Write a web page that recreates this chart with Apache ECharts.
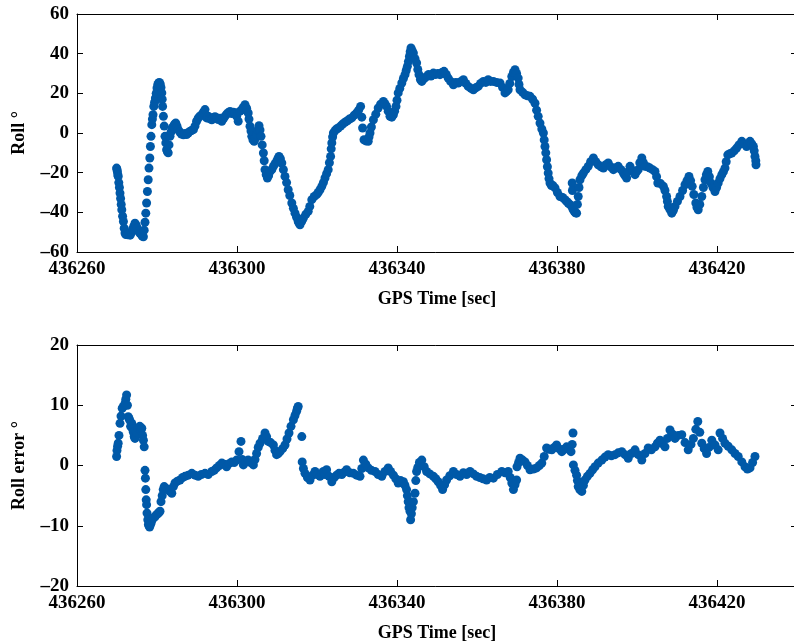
<!DOCTYPE html>
<html>
<head>
<meta charset="utf-8">
<script src="https://cdn.jsdelivr.net/npm/echarts@6/dist/echarts.min.js"></script>
<style>
html,body{margin:0;padding:0;background:#fff;}
#chart{width:794px;height:643px;}
</style>
</head>
<body>
<div id="chart"></div>
<script>
// Samples: [GPS time - 436000 (sec), roll (deg)] — top panel
const rollPoints = [
[269.9,-17.7],[270.0,-18.5],[270.1,-19.5],[270.2,-21],[270.3,-21.9],[270.45,-25],[270.6,-27.5],[270.75,-30.3],[270.9,-33],[271.05,-36],[271.2,-38.7],[271.4,-42],[271.6,-44.6],[271.8,-48],[272.0,-50.4],[272.2,-51.2],
[272.4,-50.5],[272.7,-51.3],[273.0,-50.8],[273.3,-51.5],[273.6,-50.2],[273.9,-48.5],[274.2,-47],[274.5,-45.5],[274.8,-46.5],[275.1,-48],[275.4,-49.5],[275.7,-50.5],[276.0,-51],[276.3,-52],[276.6,-52.3],[276.8,-49],
[277.0,-45],[277.2,-40.4],[277.4,-35.3],[277.6,-29.5],[277.8,-23.6],[278.0,-17.7],[278.2,-12.6],[278.35,-6.8],[278.5,-1.7],[278.7,4.2],[278.85,7],[279.0,9.2],[279.2,13.4],[279.4,15.5],[279.6,17.6],[279.8,20],[280.0,22.7],[280.2,24.5],[280.4,25.2],[280.6,25.5],[280.8,24.8],[281.0,23],[281.2,20.2],[281.3,17],[281.4,13.4],[281.6,8.4],[281.8,3.5],[282.0,-1.7],[282.2,-5],[282.4,-8.4],[282.6,-9.5],[282.8,-10],[283.0,-6],[283.25,-1.7],[283.5,0.5],[283.8,2.5],[284.1,3.4],[284.4,4.5],[284.7,5.0],[285.0,3.5],[285.3,1.7],[285.7,0.5],[286.1,-0.5],[286.6,-0.9],[287.0,-0.2],[287.4,-0.8],[287.8,0],[288.2,0.8],[288.6,1.2],[289.1,1.7],[289.5,3.5],[289.9,5.9],[290.3,7.5],[290.7,8.5],[291.2,9.2],[291.6,10.5],[292.0,11.8],[292.4,7.6],[292.8,8.5],[293.2,7.2],[293.7,6.7],[294.1,7.8],[294.5,8.2],[294.9,7.6],[295.3,6.8],[295.8,7.5],[296.2,5.9],[296.6,7.2],[297.0,8.4],[297.4,9.5],[297.8,10.2],[298.25,10.9],[298.7,9.8],[299.1,10.5],[299.5,10.1],[299.9,8.5],[300.3,5.9],[300.7,10.9],[301.1,11.5],[301.5,12.8],[302.0,14.3],[302.4,12.5],[302.8,10.1],[303.0,7],[303.25,3.4],[303.5,1],[303.7,-1.7],[304.0,-3.5],[304.3,-4.2],[304.6,-2.5],[304.9,-0.9],[305.2,1.5],[305.5,3.7],[305.75,1.5],[306.0,-1.7],[306.3,-6],[306.6,-10.1],[306.8,-14],[307.0,-18.5],[307.3,-21],[307.6,-22.7],[307.9,-21.5],[308.25,-19.4],[308.7,-18.5],[309.1,-16.8],[309.5,-15.5],[309.9,-14.3],[310.2,-13],[310.5,-11.8],[310.85,-13],[311.2,-15.1],[311.6,-18.5],[312.0,-21.9],[312.4,-25],[312.8,-28.6],[313.2,-31.5],[313.7,-35.3],[314.1,-38],[314.5,-40.4],[314.9,-42.5],[315.3,-44.6],[315.55,-45.5],[315.75,-46.3],[316.2,-44.5],[316.6,-42.9],[317.2,-41],[317.8,-39.5],[318.2,-37],[318.7,-33.6],[319.3,-32],[319.9,-31.1],[320.3,-30],[320.75,-28.6],[321.2,-26.9],[321.6,-25],[322.0,-22.7],[322.4,-20.5],[322.8,-18.5],[323.1,-15],[323.4,-11.8],[323.55,-8],[323.7,-5.0],[323.9,-2],[324.1,0],[324.5,1.2],[324.9,2],[325.3,2.5],[325.9,3.5],[326.4,4.5],[327.0,5.4],[327.6,6.2],[328.1,7],[328.7,7.6],[329.3,9],[329.9,10.1],[330.4,11.5],[330.9,13.4],[331.2,8],[331.4,2.5],[331.75,-3.4],[332.2,-4],[332.8,-4.2],[333.0,-2],[333.25,0],[333.6,3],[334.1,6.7],[334.7,9.5],[335.3,12.6],[335.9,14.5],[336.6,15.9],[337.0,14.8],[337.4,13.4],[337.8,11],[338.25,8.4],[338.7,8],[339.1,9.2],[339.4,11],[339.75,13.4],[340.0,16.5],[340.3,20.2],[340.7,22.5],[341.2,25.2],[341.6,27.5],[342.0,29.4],[342.3,31.5],[342.6,33.6],[342.85,36],[343.1,38.6],[343.3,41],[343.5,42.9],[343.8,41.5],[344.1,40.3],[344.5,37.5],[344.9,35.3],[345.2,32],[345.5,29.4],[345.85,27],[346.2,26.0],[346.8,27.5],[347.4,28.5],[347.9,29.5],[348.5,28.7],[349.1,30.2],[349.6,29.5],[350.2,30],[350.75,29.4],[351.25,30.5],[351.75,31.1],[352.3,29.5],[352.8,27.7],[353.4,26],[354.1,24.3],[354.7,25.5],[355.3,25.2],[356.0,26],[356.6,26.9],[357.2,25],[357.8,23.5],[358.5,22.5],[359.1,21.8],[359.7,22.8],[360.3,23.5],[360.9,25],[361.6,26.0],[362.2,25.5],[362.8,26.9],[363.4,26],[364.1,26.0],[364.9,25.5],[365.75,25.2],[366.4,23],[367.0,20.2],[367.4,21],[367.8,21.8],[368.2,25],[368.7,28.5],[369.1,30.5],[369.5,31.9],[369.9,30],[370.3,27.7],[370.5,24.5],[370.75,21.8],[371.4,20.5],[372.0,19.3],[372.6,18.8],[373.25,18.5],[373.9,17],[374.5,15],[374.9,11.5],[375.3,8.4],[375.75,5],[376.2,2],[376.6,0],[376.8,-3.5],[377.0,-6.8],[377.2,-10],[377.4,-13.5],[377.6,-17],[377.8,-20.2],[378.0,-23],[378.25,-25.2],[378.6,-26.5],[379.0,-26.5],[379.5,-27.7],[380.1,-30],[380.75,-32.0],[381.4,-32.5],[382.0,-33.6],[382.4,-34.5],[382.8,-35.3],[383.2,-36],[383.7,-37.0],[383.8,-25.2],[383.85,-29],[384.0,-38.5],[384.3,-39.5],[384.6,-40.2],[384.9,-40.4],[385.1,-36],[385.3,-32.0],[385.5,-27.5],[385.75,-23.6],[386.2,-21.5],[386.6,-20.2],[387.2,-18.5],[387.8,-16.8],[388.4,-14.5],[389.1,-12.6],[389.7,-14.5],[390.3,-16.0],[391.0,-17],[391.6,-17.7],[392.2,-16],[392.8,-15.1],[393.4,-17],[394.1,-18.5],[394.7,-17.5],[395.3,-16.8],[396.0,-18.5],[396.6,-20.2],[397.0,-21.5],[397.4,-22.7],[397.8,-19.5],[398.25,-16.8],[398.9,-19],[399.5,-21.0],[399.9,-19.5],[400.3,-18.5],[400.7,-15],[401.2,-12.6],[401.6,-15],[402.0,-16.8],[402.6,-17],[403.25,-17.7],[403.9,-18.5],[404.5,-19.4],[404.9,-22],[405.2,-25.2],[405.9,-25.5],[406.6,-26.9],[407.0,-29],[407.4,-32.0],[407.6,-34.5],[407.8,-37.0],[408.2,-38.5],[408.7,-40.4],[409.1,-39],[409.5,-37.0],[410.1,-34.5],[410.75,-32.0],[411.4,-29],[412.0,-26.1],[412.5,-24],[413.0,-21.9],[413.4,-24],[413.8,-26.9],[414.2,-31],[414.7,-35.3],[415.0,-37.5],[415.3,-38.7],[415.7,-36],[416.2,-32.0],[416.6,-27.5],[417.0,-23.6],[417.35,-21],[417.7,-19.4],[418.1,-22],[418.5,-25.2],[419.0,-27.5],[419.5,-29.5],[419.9,-27.5],[420.3,-25.2],[420.75,-23],[421.2,-21.0],[421.6,-19.5],[422.0,-17.7],[422.3,-14.5],[422.7,-11.0],[423.2,-10.5],[423.7,-10.1],[424.3,-9],[424.9,-7.6],[425.5,-6],[426.2,-4.2],[426.8,-5.5],[427.4,-6.8],[427.8,-5.5],[428.25,-4.2],[428.7,-5.5],[429.1,-6.8],[429.3,-9],[429.5,-11.8],[429.7,-14],[429.75,-16]
];

// Samples: [GPS time - 436000 (sec), roll error (deg)] — bottom panel
const errPoints = [
[269.9,1.5],[270.0,2.5],[270.15,3.2],[270.3,3.7],[270.5,5],[270.75,7.0],[271.0,8.2],[271.3,9.5],[271.6,9.8],[272.0,10.3],[272.2,11],[272.4,11.7],[272.6,10],[272.8,8.1],[273.0,7.8],[273.2,7.5],[273.4,6.5],[273.7,7.0],[273.9,6],[274.1,5.5],[274.3,4.8],[274.5,4.5],[274.9,5.5],[275.3,6.2],[275.7,6.5],[276.0,5.8],[276.2,6.2],[276.4,5],[276.6,4.2],[276.8,3.1],
[277.0,-0.8],[277.1,-2.1],[277.2,-4.0],[277.3,-5.7],[277.4,-6.5],[277.5,-7.9],[277.7,-9.0],[277.85,-9.8],[278.0,-10.0],[278.15,-10.2],[278.3,-9.9],[278.55,-9.5],[278.8,-9.0],[279.1,-8.7],[279.5,-8.5],[279.8,-8.2],[280.2,-8.0],[280.5,-7.8],[280.75,-7.6],[281.0,-6],[281.3,-5.0],[281.55,-4],[281.8,-3.5],[282.3,-3.8],[282.8,-4.0],[283.2,-4.3],[283.7,-4.6],[284.1,-3.5],[284.5,-2.9],[285.1,-2.6],[285.75,-2.4],[286.4,-2],[287.0,-1.8],[287.8,-1.6],[288.7,-1.3],[289.5,-1.6],[290.3,-1.8],[291.1,-1.5],[292.0,-1.3],[292.8,-1.5],[293.7,-1.0],[294.3,-0.8],[294.9,-0.4],[295.6,0],[296.2,0.4],[296.8,0.2],[297.4,-0.2],[298.0,0.3],[298.7,0.6],[299.3,0.5],[299.9,0.9],[300.5,2.3],[301.0,4.0],[301.3,1],[301.6,0.1],[302.2,0.6],[302.8,0.9],[303.4,0.5],[304.1,0.1],[304.5,1],[304.9,2.0],[305.3,3],[305.75,3.7],[306.4,4.5],[307.0,5.4],[307.4,4.8],[307.8,4.0],[308.4,3.8],[309.1,3.4],[309.5,2.5],[309.9,1.8],[310.3,2],[310.75,2.3],[311.4,2.8],[312.0,3.4],[312.5,4.4],[313.0,5.4],[313.5,6.5],[314.1,7.6],[314.5,8.3],[314.9,9.0],[315.1,9.5],[315.3,9.8],[316.2,4.8],
[316.3,0.6],[316.6,-0.5],[317.0,-1.3],[317.6,-2],[318.25,-2.4],[318.9,-1.6],[319.5,-1.0],[320.1,-1.5],[320.75,-1.8],[321.2,-1.3],[321.6,-1.0],[322.0,-1.5],[322.4,-0.7],[323.0,-1.8],[323.7,-2.7],[324.3,-2],[324.9,-1.6],[325.5,-1.3],[326.2,-1.5],[326.8,-1.1],[327.4,-0.7],[328.2,-1.2],[329.1,-1.3],[329.9,-1.6],[330.75,-1.8],[331.2,-0.5],[331.6,0.9],[332.2,0.2],[332.8,-0.4],[333.6,-0.8],[334.5,-1.0],[335.3,-1.5],[336.2,-1.8],[337.0,-1.0],[337.8,-0.4],[338.4,-1],[339.1,-1.6],[339.7,-2.2],[340.3,-2.9],[340.9,-2.5],[341.6,-2.7],[342.0,-3.3],[342.4,-4.0],[342.6,-5],[342.8,-6.0],[343.0,-7],[343.25,-7.6],[343.4,-9.0],[343.6,-8],[343.8,-7],[344.1,-6.0],[344.5,-4.6],[344.7,-2.5],[344.9,-1.0],[345.2,-0.3],[345.6,0.5],[346.2,0.9],[346.8,-0.2],[347.4,-1.0],[348.2,-1.4],[349.1,-1.8],[349.7,-2.2],[350.3,-2.7],[350.9,-3.3],[351.4,-4.0],[351.9,-3.2],[352.4,-2.4],[353.2,-1.7],[354.1,-1.0],[354.9,-1.5],[355.75,-1.8],[356.6,-1.2],[357.4,-1.5],[358.25,-1.0],[359.1,-1.4],[359.9,-1.8],[360.7,-2.0],[361.5,-2.2],[362.4,-2.4],[363.2,-2.0],[364.1,-2.1],[365.1,-1.5],[366.2,-1.0],[367.0,-1.2],[367.8,-1.0],[368.3,-2],[368.7,-2.9],[369.1,-4.0],[369.5,-3.2],[369.9,-2.4],[370.0,-0.2],[370.4,0.5],[370.75,1.2],[371.4,0.9],[372.0,0.6],[372.6,0],[373.25,-0.7],[374.1,-0.6],[374.9,-0.4],[375.6,0],[376.2,0.4],[376.8,1.5],[377.4,2.9],[378.0,2.7],[378.7,2.6],[379.3,3],[379.9,3.4],[380.5,2.8],[381.2,2.3],[381.8,2.7],[382.4,3.1],[383.0,2.7],[383.5,2.3],[383.8,3.5],[384.0,5.4],[384.1,0.1],[384.5,-0.8],[384.9,-1.6],[385.1,-2.5],[385.3,-3.5],[385.7,-4],[386.2,-4.3],[386.6,-3.3],[387.0,-2.4],[387.6,-1.8],[388.25,-1.3],[388.9,-0.7],[389.5,-0.2],[390.3,0.4],[391.2,0.9],[392.0,1.4],[392.8,1.8],[393.6,1.6],[394.5,1.8],[395.3,2.1],[396.2,2.3],[397.0,1.8],[397.8,1.2],[398.6,2],[399.5,2.6],[400.3,1.8],[401.2,0.9],[402.0,2],[402.8,2.9],[403.6,2.6],[404.5,3.1],[405.1,3.7],[405.75,4.2],[406.4,3.6],[407.0,3.1],[407.6,4.5],[408.25,5.9],[408.9,5.2],[409.5,4.5],[410.3,5.0],[411.2,5.1],[412.0,3.8],[412.8,2.6],[413.5,3.5],[414.1,4.5],[414.7,6],[415.2,7.3],[415.7,5.5],[416.2,3.7],[416.8,2.8],[417.4,2.0],[418.0,3],[418.7,4.2],[419.5,3.4],[420.3,2.6],[420.75,5.4],[421.4,4.5],[422.0,3.7],[422.8,3.2],[423.7,2.6],[424.5,2],[425.3,1.5],[426.2,0.6],[427.0,-0.2],[427.6,-0.6],[428.25,-0.4],[428.9,0.5],[429.5,1.5]
];

const timeBase = 436000;
const xTicks = [436260, 436300, 436340, 436380, 436420];
const rollTicks = [-60, -40, -20, 0, 20, 40, 60];
const errTicks = [-20, -10, 0, 10, 20];

const font = '"Liberation Serif", "DejaVu Serif", serif';
const blue = '#0059A8';
const fmtNum = v => String(v).replace('-', '\u2013');

function toData(pts) { return pts.map(p => [timeBase + p[0], p[1]]); }

const chart = echarts.init(document.getElementById('chart'), null, {renderer: 'canvas'});

const gridDefs = [
  {left: 77, top: 14, width: 720, height: 238, containLabel: false, outerBoundsMode: 'none'},
  {left: 77, top: 345, width: 720, height: 241, containLabel: false, outerBoundsMode: 'none'}
];

function xAx(gi, pos, showLabel) {
  return {
    type: 'value', gridIndex: gi, position: pos, min: 436260, max: 436440, interval: 40,
    axisLine: {show: true, onZero: false, lineStyle: {color: '#000', width: 1}},
    axisTick: {show: true, inside: true, length: 6, lineStyle: {color: '#000'}},
    axisLabel: {show: showLabel, color: '#000', fontFamily: font, fontWeight: 'bold', fontSize: 19, margin: 8,
      formatter: v => (xTicks.indexOf(v) >= 0 ? String(v) : '')},
    splitLine: {show: false},
    name: showLabel ? 'GPS Time [sec]' : '', nameLocation: 'middle', nameGap: 38,
    nameTextStyle: {color: '#000', fontFamily: font, fontWeight: 'bold', fontSize: 18}
  };
}
function yAx(gi, pos, showLabel, ticks, interval, name) {
  return {
    type: 'value', gridIndex: gi, position: pos, min: ticks[0], max: ticks[ticks.length - 1], interval: interval,
    axisLine: {show: true, onZero: false, lineStyle: {color: '#000', width: 1}},
    axisTick: {show: true, inside: true, length: 6, lineStyle: {color: '#000'}},
    axisLabel: {show: showLabel, color: '#000', fontFamily: font, fontWeight: 'bold', fontSize: 19, margin: 8,
      formatter: fmtNum},
    splitLine: {show: false},
    name: showLabel ? name : '', nameLocation: 'middle', nameGap: 49, nameRotate: 90,
    nameTextStyle: {color: '#000', fontFamily: font, fontWeight: 'bold', fontSize: 18}
  };
}

chart.setOption({
  animation: false,
  backgroundColor: '#fff',
  grid: gridDefs,
  xAxis: [xAx(0, 'bottom', true), xAx(0, 'top', false), xAx(1, 'bottom', true), xAx(1, 'top', false)],
  yAxis: [
    yAx(0, 'left', true, rollTicks, 20, 'Roll \u00b0'),
    yAx(0, 'right', false, rollTicks, 20, ''),
    yAx(1, 'left', true, errTicks, 10, 'Roll error \u00b0'),
    yAx(1, 'right', false, errTicks, 10, '')
  ],
  series: [
    {type: 'scatter', xAxisIndex: 0, yAxisIndex: 0, data: toData(rollPoints),
     symbol: 'circle', symbolSize: 9, itemStyle: {color: blue, opacity: 1}},
    {type: 'scatter', xAxisIndex: 2, yAxisIndex: 2, data: toData(errPoints),
     symbol: 'circle', symbolSize: 9, itemStyle: {color: blue, opacity: 1}}
  ]
});
</script>
</body>
</html>
